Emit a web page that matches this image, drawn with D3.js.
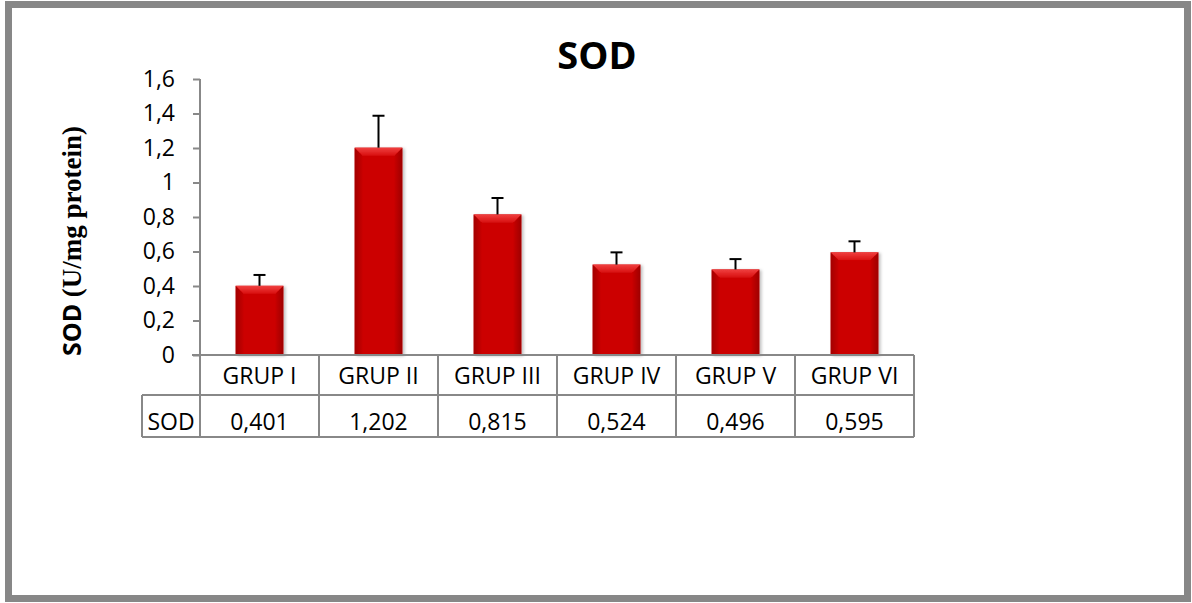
<!DOCTYPE html>
<html>
<head>
<meta charset="utf-8">
<script src="https://cdn.jsdelivr.net/npm/d3@7"></script>
<style>
  body { margin: 0; background: #fff; }
  svg { display: block; }
  .tick-label, .cell-text { font-family: "Open Sans", sans-serif; font-size: 23px; fill: #000; }
</style>
</head>
<body>
<svg id="chart"></svg>
<script>
var svgWidth = 1192;
var svgHeight = 603;

// data
var groups = ["GRUP I", "GRUP II", "GRUP III", "GRUP IV", "GRUP V", "GRUP VI"];
var sodValues = [0.401, 1.202, 0.815, 0.524, 0.496, 0.595];
var sodErrors = [0.063, 0.185, 0.095, 0.071, 0.060, 0.064];
var yTicks = [0, 0.2, 0.4, 0.6, 0.8, 1, 1.2, 1.4, 1.6];
var seriesName = "SOD";

var plotLeft = 200, plotRight = 914;
var plotTop = 79, plotBottom = 355;
var rowHeight1 = 40, rowHeight2 = 42;
var gridColor = "#888";

var x = d3.scaleBand().domain(groups).range([plotLeft, plotRight]).padding(0);
var y = d3.scaleLinear().domain([0, 1.6]).range([plotBottom, plotTop]);

function comma(v) { return String(+v.toFixed(3)).replace(".", ","); }

var svg = d3.select("#chart").attr("width", svgWidth).attr("height", svgHeight);

var defs = svg.append("defs");
var shadow = defs.append("filter").attr("id", "shadow")
     .attr("x", "-20%").attr("y", "-5%").attr("width", "150%").attr("height", "115%");
shadow.append("feDropShadow").attr("dx", 2).attr("dy", 1).attr("stdDeviation", 1.5)
     .attr("flood-color", "#000").attr("flood-opacity", 0.25);

var gl = defs.append("linearGradient").attr("id", "sideL").attr("x1", 0).attr("x2", 1).attr("y1", 0).attr("y2", 0);
gl.append("stop").attr("offset", 0).attr("stop-color", "#a30000");
gl.append("stop").attr("offset", 1).attr("stop-color", "#c80000");
var gr = defs.append("linearGradient").attr("id", "sideR").attr("x1", 0).attr("x2", 1).attr("y1", 0).attr("y2", 0);
gr.append("stop").attr("offset", 0).attr("stop-color", "#c80000");
gr.append("stop").attr("offset", 1).attr("stop-color", "#9e0000");
var gt = defs.append("linearGradient").attr("id", "topB").attr("x1", 0).attr("x2", 0).attr("y1", 0).attr("y2", 1);
gt.append("stop").attr("offset", 0).attr("stop-color", "#f04040");
gt.append("stop").attr("offset", 1).attr("stop-color", "#d81010");

// outer frame
svg.append("rect")
     .attr("x", 8.5).attr("y", 4.5)
     .attr("width", 1179).attr("height", 594)
     .attr("fill", "#fff").attr("stroke", "#878787").attr("stroke-width", 7);

// title
svg.append("text")
     .attr("x", 597).attr("y", 69)
     .attr("text-anchor", "middle")
     .style("font-family", "'Open Sans', sans-serif")
     .style("font-weight", "bold")
     .style("font-size", "38px")
     .text("SOD");

// y axis title (mixed fonts)
var yTitle = svg.append("text")
     .attr("transform", "translate(81,241) rotate(-90)")
     .attr("text-anchor", "middle")
     .style("font-weight", "bold");
yTitle.append("tspan")
     .attr("font-family", "'Liberation Sans Narrow', 'Open Sans', sans-serif")
     .attr("font-size", 25)
     .text("SOD ");
yTitle.append("tspan")
     .attr("font-family", "'Liberation Serif', 'Times New Roman', serif")
     .attr("font-size", 27)
     .text("(U/mg protein)");

// y axis
var yAxis = svg.append("g")
     .attr("transform", "translate(" + plotLeft + ",0)")
     .call(d3.axisLeft(y).tickValues(yTicks).tickSize(7).tickPadding(18).tickFormat(comma));
yAxis.select(".domain").attr("stroke", gridColor).attr("stroke-width", 2).attr("d", "M0," + plotTop + "V" + plotBottom);
yAxis.selectAll(".tick line").attr("stroke", gridColor).attr("stroke-width", 2);
yAxis.selectAll(".tick text").attr("class", "tick-label").attr("font-size", null).attr("font-family", null);

// bars
var bevel = 8;
var bars = svg.append("g").selectAll("g")
     .data(groups.map(function(g, i) { return { name: g, value: sodValues[i], err: sodErrors[i] }; }))
     .enter()
     .append("g")
     .attr("filter", "url(#shadow)");

var barW = x.bandwidth() * 0.4;
function bx(d) { return x(d.name) + (x.bandwidth() - barW) / 2; }

bars.append("rect")
     .attr("x", bx).attr("y", function(d) { return y(d.value); })
     .attr("width", barW).attr("height", function(d) { return plotBottom - y(d.value); })
     .attr("fill", "#cc0000");
bars.append("polygon")
     .attr("fill", "url(#sideL)")
     .attr("points", function(d) {
          var x0 = bx(d), y0 = y(d.value);
          return [[x0, y0], [x0 + bevel, y0 + bevel], [x0 + bevel, plotBottom], [x0, plotBottom]].join(" ");
     });
bars.append("polygon")
     .attr("fill", "url(#sideR)")
     .attr("points", function(d) {
          var x1 = bx(d) + barW, y0 = y(d.value);
          return [[x1, y0], [x1 - bevel, y0 + bevel], [x1 - bevel, plotBottom], [x1, plotBottom]].join(" ");
     });
bars.append("polygon")
     .attr("fill", "url(#topB)")
     .attr("points", function(d) {
          var x0 = bx(d), x1 = x0 + barW, y0 = y(d.value);
          return [[x0, y0], [x1, y0], [x1 - bevel, y0 + bevel], [x0 + bevel, y0 + bevel]].join(" ");
     });

// error bars
var errs = svg.append("g").selectAll("g")
     .data(groups.map(function(g, i) { return { name: g, value: sodValues[i], err: sodErrors[i] }; }))
     .enter().append("g")
     .attr("stroke", "#000").attr("stroke-width", 2);
errs.append("line")
     .attr("x1", function(d) { return x(d.name) + x.bandwidth() / 2; })
     .attr("x2", function(d) { return x(d.name) + x.bandwidth() / 2; })
     .attr("y1", function(d) { return y(d.value); })
     .attr("y2", function(d) { return y(d.value + d.err); });
errs.append("line")
     .attr("x1", function(d) { return x(d.name) + x.bandwidth() / 2 - 6; })
     .attr("x2", function(d) { return x(d.name) + x.bandwidth() / 2 + 6; })
     .attr("y1", function(d) { return y(d.value + d.err); })
     .attr("y2", function(d) { return y(d.value + d.err); });

// data table under the axis
var table = svg.append("g").attr("stroke", gridColor).attr("stroke-width", 2).attr("fill", "none");
var row1Bottom = plotBottom + rowHeight1;
var row2Bottom = row1Bottom + rowHeight2;
var tableLeft = 142;
table.append("line").attr("x1", plotLeft - 8).attr("x2", plotRight).attr("y1", plotBottom).attr("y2", plotBottom);
table.append("line").attr("x1", tableLeft).attr("x2", plotRight).attr("y1", row1Bottom).attr("y2", row1Bottom);
table.append("line").attr("x1", tableLeft).attr("x2", plotRight).attr("y1", row2Bottom).attr("y2", row2Bottom);
table.append("line").attr("x1", tableLeft).attr("x2", tableLeft).attr("y1", row1Bottom).attr("y2", row2Bottom);
table.selectAll(".vline")
     .data(groups.concat(["end"]))
     .enter().append("line")
     .attr("class", "vline")
     .attr("x1", function(d, i) { return plotLeft + i * x.bandwidth(); })
     .attr("x2", function(d, i) { return plotLeft + i * x.bandwidth(); })
     .attr("y1", plotBottom).attr("y2", row2Bottom);

svg.append("g").selectAll("text")
     .data(groups).enter().append("text")
     .attr("class", "cell-text")
     .attr("x", function(d) { return x(d) + x.bandwidth() / 2; })
     .attr("y", plotBottom + 29)
     .attr("text-anchor", "middle")
     .text(function(d) { return d; });

svg.append("g").selectAll("text")
     .data(sodValues).enter().append("text")
     .attr("class", "cell-text")
     .attr("x", function(d, i) { return x(groups[i]) + x.bandwidth() / 2; })
     .attr("y", row1Bottom + 35)
     .attr("text-anchor", "middle")
     .text(function(d) { return comma(d); });

svg.append("text")
     .attr("class", "cell-text")
     .attr("x", (tableLeft + plotLeft) / 2)
     .attr("y", row1Bottom + 35)
     .attr("text-anchor", "middle")
     .text(seriesName);
</script>
</body>
</html>
